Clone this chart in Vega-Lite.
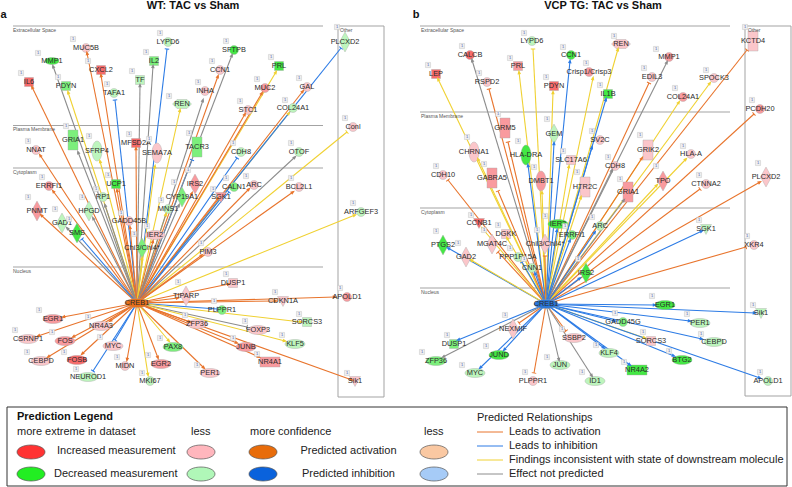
{
"$schema":"https://vega.github.io/schema/vega-lite/v6.json",
"width":792,"height":487,"padding":0,
"autosize":{"type":"fit","contains":"padding"},
"background":"white",
"config":{"view":{"stroke":null}},
"datasets":{
"guides":[
{"x":13,"y":26,"x2":323,"y2":26,"c":"frame"},{"x":13,"y":125.5,"x2":323,"y2":125.5,"c":"frame"},{"x":13,"y":168,"x2":323,"y2":168,"c":"frame"},{"x":13,"y":267,"x2":323,"y2":267,"c":"frame"},
{"x":338,"y":26,"x2":384,"y2":26,"c":"frame"},{"x":338,"y":397,"x2":384,"y2":397,"c":"frame"},{"x":338,"y":26,"x2":338,"y2":397,"c":"frame"},{"x":384,"y":26,"x2":384,"y2":397,"c":"frame"},
{"x":420,"y":26,"x2":730,"y2":26,"c":"frame"},{"x":420,"y":112,"x2":730,"y2":112,"c":"frame"},{"x":420,"y":208,"x2":730,"y2":208,"c":"frame"},{"x":420,"y":288,"x2":730,"y2":288,"c":"frame"},
{"x":745,"y":26,"x2":791,"y2":26,"c":"frame"},{"x":745,"y":396,"x2":791,"y2":396,"c":"frame"},{"x":745,"y":26,"x2":745,"y2":396,"c":"frame"},{"x":791,"y":26,"x2":791,"y2":396,"c":"frame"},
{"x":7,"y":407,"x2":787,"y2":407,"c":"box"},{"x":7,"y":486,"x2":787,"y2":486,"c":"box"},{"x":7,"y":407,"x2":7,"y2":486,"c":"box"},{"x":787,"y":407,"x2":787,"y2":486,"c":"box"},
{"x":477,"y":432,"x2":503,"y2":432,"c":"act"},{"x":477,"y":446,"x2":503,"y2":446,"c":"inh"},{"x":477,"y":460,"x2":503,"y2":460,"c":"inc"},{"x":477,"y":474,"x2":503,"y2":474,"c":"non"}
],
"edges":[
{"x0":137,"y0":303,"x":87,"y":53,"r":"act","h":"arrow"},{"x0":137,"y0":303,"x":53,"y":66,"r":"non","h":"arrow"},{"x0":137,"y0":303,"x":32,"y":87,"r":"act","h":"arrow"},{"x0":137,"y0":303,"x":101,"y":75,"r":"act","h":"arrow"},
{"x0":137,"y0":303,"x":167,"y":49,"r":"inh","h":"tee"},{"x0":137,"y0":303,"x":153,"y":66,"r":"non","h":"arrow"},{"x0":137,"y0":303,"x":140,"y":85,"r":"non","h":"arrow"},{"x0":137,"y0":303,"x":68,"y":92,"r":"inc","h":"arrow"},
{"x0":137,"y0":303,"x":115,"y":100,"r":"inh","h":"tee"},{"x0":137,"y0":303,"x":180,"y":110,"r":"inc","h":"arrow"},{"x0":137,"y0":303,"x":78,"y":152,"r":"non","h":"arrow"},{"x0":137,"y0":303,"x":100,"y":161,"r":"inc","h":"arrow"},
{"x0":137,"y0":303,"x":40,"y":155,"r":"act","h":"arrow"},{"x0":137,"y0":303,"x":136,"y":148,"r":"act","h":"arrow"},{"x0":137,"y0":303,"x":155,"y":166,"r":"inc","h":"arrow"},{"x0":137,"y0":303,"x":192,"y":160,"r":"inh","h":"tee"},
{"x0":137,"y0":303,"x":117,"y":190,"r":"act","h":"arrow"},{"x0":137,"y0":303,"x":53,"y":191,"r":"act","h":"arrow"},{"x0":137,"y0":303,"x":105,"y":205,"r":"non","h":"arrow"},{"x0":137,"y0":303,"x":93,"y":218,"r":"non","h":"arrow"},
{"x0":137,"y0":303,"x":192,"y":193,"r":"act","h":"arrow"},{"x0":137,"y0":303,"x":179,"y":205,"r":"non","h":"arrow"},{"x0":137,"y0":303,"x":166,"y":214,"r":"inc","h":"arrow"},{"x0":137,"y0":303,"x":130,"y":227,"r":"act","h":"arrow"},
{"x0":137,"y0":303,"x":153,"y":241,"r":"act","h":"arrow"},{"x0":137,"y0":303,"x":142,"y":258,"r":"inc","h":"arrow"},{"x0":137,"y0":303,"x":41,"y":215,"r":"act","h":"arrow"},{"x0":137,"y0":303,"x":67,"y":228,"r":"non","h":"arrow"},
{"x0":137,"y0":303,"x":82,"y":239,"r":"inh","h":"tee"},{"x0":137,"y0":303,"x":232,"y":55,"r":"non","h":"arrow"},{"x0":137,"y0":303,"x":218,"y":76,"r":"act","h":"arrow"},{"x0":137,"y0":303,"x":203,"y":100,"r":"non","h":"arrow"},
{"x0":137,"y0":303,"x":276,"y":72,"r":"inc","h":"arrow"},{"x0":137,"y0":303,"x":262,"y":93,"r":"act","h":"arrow"},{"x0":137,"y0":303,"x":303,"y":91,"r":"act","h":"arrow"},{"x0":137,"y0":303,"x":245,"y":114,"r":"act","h":"arrow"},
{"x0":137,"y0":303,"x":289,"y":113,"r":"inc","h":"arrow"},{"x0":137,"y0":303,"x":341,"y":48,"r":"inh","h":"tee"},{"x0":137,"y0":303,"x":347,"y":132,"r":"inc","h":"tee"},{"x0":137,"y0":303,"x":237,"y":158,"r":"inh","h":"tee"},
{"x0":137,"y0":303,"x":295,"y":157,"r":"non","h":"arrow"},{"x0":137,"y0":303,"x":229,"y":192,"r":"inh","h":"tee"},{"x0":137,"y0":303,"x":249,"y":189,"r":"act","h":"arrow"},{"x0":137,"y0":303,"x":293,"y":192,"r":"act","h":"arrow"},
{"x0":137,"y0":303,"x":218,"y":198,"r":"act","h":"arrow"},{"x0":137,"y0":303,"x":355,"y":215,"r":"inc","h":"arrow"},{"x0":137,"y0":303,"x":229,"y":284,"r":"act","h":"arrow"},{"x0":137,"y0":303,"x":202,"y":255,"r":"act","h":"arrow"},
{"x0":137,"y0":303,"x":335,"y":297,"r":"act","h":"arrow"},{"x0":137,"y0":303,"x":276,"y":301,"r":"act","h":"arrow"},{"x0":137,"y0":303,"x":217,"y":309,"r":"inh","h":"tee"},{"x0":137,"y0":303,"x":301,"y":322,"r":"inc","h":"arrow"},
{"x0":137,"y0":303,"x":247,"y":327,"r":"non","h":"tee"},{"x0":137,"y0":303,"x":285,"y":341,"r":"inc","h":"arrow"},{"x0":137,"y0":303,"x":237,"y":343,"r":"act","h":"arrow"},{"x0":137,"y0":303,"x":259,"y":357,"r":"act","h":"arrow"},
{"x0":137,"y0":303,"x":352,"y":380,"r":"act","h":"arrow"},{"x0":137,"y0":303,"x":204,"y":368,"r":"act","h":"arrow"},{"x0":137,"y0":303,"x":190,"y":322,"r":"act","h":"arrow"},{"x0":137,"y0":303,"x":178,"y":298,"r":"act","h":"arrow"},
{"x0":137,"y0":303,"x":63,"y":317,"r":"act","h":"arrow"},{"x0":137,"y0":303,"x":110,"y":321,"r":"act","h":"arrow"},{"x0":137,"y0":303,"x":38,"y":336,"r":"act","h":"arrow"},{"x0":137,"y0":303,"x":73,"y":337,"r":"act","h":"arrow"},
{"x0":137,"y0":303,"x":115,"y":340,"r":"inh","h":"tee"},{"x0":137,"y0":303,"x":48,"y":357,"r":"act","h":"arrow"},{"x0":137,"y0":303,"x":82,"y":354,"r":"act","h":"arrow"},{"x0":137,"y0":303,"x":169,"y":341,"r":"inc","h":"arrow"},
{"x0":137,"y0":303,"x":158,"y":358,"r":"act","h":"arrow"},{"x0":137,"y0":303,"x":127,"y":360,"r":"act","h":"arrow"},{"x0":137,"y0":303,"x":93,"y":371,"r":"inh","h":"tee"},{"x0":137,"y0":303,"x":148,"y":375,"r":"inc","h":"arrow"},
{"x0":546,"y0":304,"x":533,"y":49,"r":"inc","h":"tee"},{"x0":546,"y0":304,"x":472,"y":60,"r":"non","h":"arrow"},{"x0":546,"y0":304,"x":570,"y":61,"r":"inh","h":"arrow"},{"x0":546,"y0":304,"x":438,"y":79,"r":"inc","h":"arrow"},
{"x0":546,"y0":304,"x":519,"y":72,"r":"inc","h":"arrow"},{"x0":546,"y0":304,"x":489,"y":89,"r":"act","h":"tee"},{"x0":546,"y0":304,"x":553,"y":92,"r":"inc","h":"arrow"},{"x0":546,"y0":304,"x":593,"y":78,"r":"inc","h":"arrow"},
{"x0":546,"y0":304,"x":508,"y":142,"r":"act","h":"tee"},{"x0":546,"y0":304,"x":554,"y":143,"r":"inh","h":"arrow"},{"x0":546,"y0":304,"x":478,"y":159,"r":"inc","h":"arrow"},{"x0":546,"y0":304,"x":528,"y":165,"r":"inh","h":"arrow"},
{"x0":546,"y0":304,"x":448,"y":180,"r":"act","h":"tee"},{"x0":546,"y0":304,"x":498,"y":191,"r":"act","h":"tee"},{"x0":546,"y0":304,"x":542,"y":192,"r":"inc","h":"arrow"},{"x0":546,"y0":304,"x":569,"y":166,"r":"inc","h":"arrow"},
{"x0":546,"y0":304,"x":581,"y":197,"r":"inc","h":"arrow"},{"x0":546,"y0":304,"x":592,"y":147,"r":"inh","h":"arrow"},{"x0":546,"y0":304,"x":618,"y":49,"r":"inc","h":"arrow"},{"x0":546,"y0":304,"x":667,"y":62,"r":"non","h":"arrow"},
{"x0":546,"y0":304,"x":649,"y":83,"r":"act","h":"tee"},{"x0":546,"y0":304,"x":606,"y":99,"r":"inh","h":"arrow"},{"x0":546,"y0":304,"x":679,"y":102,"r":"inc","h":"arrow"},{"x0":546,"y0":304,"x":710,"y":83,"r":"inc","h":"arrow"},
{"x0":546,"y0":304,"x":747,"y":50,"r":"act","h":"tee"},{"x0":546,"y0":304,"x":754,"y":114,"r":"act","h":"tee"},{"x0":546,"y0":304,"x":642,"y":158,"r":"act","h":"arrow"},{"x0":546,"y0":304,"x":686,"y":159,"r":"inc","h":"arrow"},
{"x0":546,"y0":304,"x":612,"y":170,"r":"non","h":"arrow"},{"x0":546,"y0":304,"x":657,"y":185,"r":"inc","h":"arrow"},{"x0":546,"y0":304,"x":700,"y":189,"r":"act","h":"tee"},{"x0":546,"y0":304,"x":760,"y":182,"r":"act","h":"arrow"},
{"x0":546,"y0":304,"x":624,"y":200,"r":"non","h":"arrow"},{"x0":546,"y0":304,"x":482,"y":228,"r":"inc","h":"arrow"},{"x0":546,"y0":304,"x":507,"y":238,"r":"inc","h":"arrow"},{"x0":546,"y0":304,"x":498,"y":252,"r":"act","h":"tee"},
{"x0":546,"y0":304,"x":448,"y":248,"r":"inh","h":"arrow"},{"x0":546,"y0":304,"x":471,"y":260,"r":"inc","h":"arrow"},{"x0":546,"y0":304,"x":522,"y":262,"r":"inh","h":"tee"},{"x0":546,"y0":304,"x":535,"y":273,"r":"inh","h":"arrow"},
{"x0":546,"y0":304,"x":545,"y":256,"r":"act","h":"tee"},{"x0":546,"y0":304,"x":557,"y":230,"r":"inh","h":"arrow"},{"x0":546,"y0":304,"x":570,"y":240,"r":"inh","h":"arrow"},{"x0":546,"y0":304,"x":595,"y":232,"r":"inh","h":"arrow"},
{"x0":546,"y0":304,"x":580,"y":278,"r":"inh","h":"arrow"},{"x0":546,"y0":304,"x":702,"y":231,"r":"inh","h":"arrow"},{"x0":546,"y0":304,"x":746,"y":247,"r":"act","h":"tee"},{"x0":546,"y0":304,"x":519,"y":323,"r":"act","h":"tee"},
{"x0":546,"y0":304,"x":566,"y":331,"r":"act","h":"tee"},{"x0":546,"y0":304,"x":458,"y":340,"r":"inh","h":"arrow"},{"x0":546,"y0":304,"x":504,"y":350,"r":"inh","h":"arrow"},{"x0":546,"y0":304,"x":443,"y":357,"r":"non","h":"arrow"},
{"x0":546,"y0":304,"x":480,"y":368,"r":"inh","h":"arrow"},{"x0":546,"y0":304,"x":559,"y":360,"r":"non","h":"arrow"},{"x0":546,"y0":304,"x":534,"y":373,"r":"act","h":"tee"},{"x0":546,"y0":304,"x":592,"y":376,"r":"non","h":"arrow"},
{"x0":546,"y0":304,"x":655,"y":305,"r":"inh","h":"arrow"},{"x0":546,"y0":304,"x":755,"y":313,"r":"inh","h":"arrow"},{"x0":546,"y0":304,"x":690,"y":321,"r":"inh","h":"arrow"},{"x0":546,"y0":304,"x":615,"y":321,"r":"inh","h":"arrow"},
{"x0":546,"y0":304,"x":702,"y":339,"r":"inh","h":"arrow"},{"x0":546,"y0":304,"x":645,"y":338,"r":"inc","h":"arrow"},{"x0":546,"y0":304,"x":674,"y":356,"r":"inh","h":"arrow"},{"x0":546,"y0":304,"x":760,"y":378,"r":"inh","h":"arrow"},
{"x0":546,"y0":304,"x":604,"y":348,"r":"inh","h":"arrow"},{"x0":546,"y0":304,"x":630,"y":365,"r":"inh","h":"arrow"}
],
"nodes":[
{"n":"MUC5B","x":86,"y":48,"k":"circle","s":"up1","bx":73,"by":39},{"n":"MMP1","x":52,"y":61,"k":"ellS","s":"dn3","bx":38,"by":53},{"n":"IL6","x":29,"y":82,"k":"square","s":"up3","bx":21,"by":73},{"n":"CXCL2","x":101,"y":70,"k":"square","s":"up3","bx":88,"by":61},
{"n":"LYPD6","x":168,"y":42,"k":"circle","s":"dn1","bx":160,"by":33},{"n":"IL2","x":154,"y":61,"k":"square","s":"dn2","bx":146,"by":52},{"n":"TF","x":140,"y":80,"k":"square","s":"dn1","bx":132,"by":71},{"n":"PDYN","x":66,"y":86,"k":"square","s":"dn2","bx":58,"by":77},
{"n":"TAFA1","x":114,"y":93,"k":"circle","s":"dn1","bx":107,"by":84},{"n":"REN","x":182,"y":104,"k":"hex","s":"dn1","bx":169,"by":96},{"n":"GRIA1","x":73,"y":140,"k":"rectT","s":"dn2","bx":66,"by":126},{"n":"SFRP4","x":97,"y":151,"k":"ellT","s":"dn1","bx":89,"by":136},
{"n":"NNAT","x":36,"y":150,"k":"circle","s":"up1","bx":28,"by":141},{"n":"MFSD2A","x":136,"y":143,"k":"square","s":"up3","bx":129,"by":134},{"n":"SEMA7A","x":157,"y":153,"k":"ellT","s":"up1","bx":149,"by":139},{"n":"TACR3","x":197,"y":147,"k":"rectT","s":"dn2","bx":189,"by":133},
{"n":"UCP1","x":116,"y":184,"k":"square","s":"dn3","bx":108,"by":175},{"n":"ERRFI1","x":49,"y":186,"k":"circle","s":"up2","bx":42,"by":177},{"n":"RP1","x":103,"y":197,"k":"circle","s":"dn1","bx":96,"by":189},{"n":"HPGD","x":89,"y":211,"k":"diamond","s":"dn1","bx":82,"by":197},
{"n":"IRS2","x":195,"y":184,"k":"diamond","s":"up2","bx":188,"by":170},{"n":"CYP19A1","x":182,"y":197,"k":"diamond","s":"dn2","bx":174,"by":182},{"n":"MNS1","x":168,"y":209,"k":"circle","s":"dn1","bx":161,"by":200},{"n":"GADD45B","x":129,"y":221,"k":"circle","s":"up1","bx":121,"by":213},
{"n":"IER2","x":155,"y":235,"k":"ellW","s":"up1","bx":147,"by":226},{"n":"Chi3/Chi4*","x":142,"y":248,"k":"diamond","s":"dn2","bx":134,"by":234},{"n":"PNMT","x":37,"y":211,"k":"diamond","s":"up2","bx":28,"by":197},{"n":"GAD1","x":62,"y":223,"k":"diamond","s":"dn1","bx":55,"by":209},
{"n":"SMS","x":77,"y":233,"k":"diamond","s":"dn3","bx":69,"by":219},{"n":"SFTPB","x":234,"y":50,"k":"circle","s":"dn3","bx":226,"by":41},{"n":"CCN1","x":220,"y":70,"k":"circle","s":"up1","bx":212,"by":61},{"n":"INHA","x":205,"y":91,"k":"circle","s":"up1","bx":198,"by":82},
{"n":"PRL","x":279,"y":66,"k":"square","s":"dn3","bx":271,"by":57},{"n":"MUC2","x":265,"y":88,"k":"circle","s":"up2","bx":257,"by":79},{"n":"GAL","x":307,"y":87,"k":"circle","s":"up1","bx":299,"by":78},{"n":"STC1","x":248,"y":110,"k":"circle","s":"up1","bx":240,"by":101},
{"n":"COL24A1","x":293,"y":108,"k":"circle","s":"dn1","bx":285,"by":100},{"n":"PLCXD2","x":345,"y":42,"k":"diamond","s":"dn1","bx":337,"by":27},{"n":"Conl","x":353,"y":127,"k":"circle","s":"up1","bx":345,"by":118},{"n":"CDH8","x":241,"y":152,"k":"circle","s":"dn1","bx":233,"by":143},
{"n":"OTOF","x":299,"y":152,"k":"circle","s":"dn1","bx":291,"by":143},{"n":"CALN1","x":234,"y":187,"k":"circle","s":"dn2","bx":226,"by":178},{"n":"ARC","x":254,"y":185,"k":"circle","s":"up1","bx":246,"by":176},{"n":"BCL2L1","x":299,"y":187,"k":"circle","s":"up1","bx":291,"by":178},
{"n":"SGK1","x":221,"y":197,"k":"tri","s":"up2","bx":213,"by":189},{"n":"ARFGEF3","x":361,"y":212,"k":"circle","s":"dn1","bx":353,"by":203},{"n":"DUSP1","x":233,"y":283,"k":"square","s":"up1","bx":226,"by":274},{"n":"PIM3","x":208,"y":252,"k":"circle","s":"up1","bx":201,"by":243},
{"n":"APOLD1","x":347,"y":297,"k":"circle","s":"up2","bx":340,"by":288},{"n":"CDKN1A","x":283,"y":301,"k":"tri","s":"up1","bx":275,"by":292},{"n":"PLPPR1","x":222,"y":310,"k":"circle","s":"dn2","bx":214,"by":301},{"n":"SORCS3","x":307,"y":322,"k":"square","s":"dn1","bx":299,"by":314},
{"n":"FOXP3","x":258,"y":330,"k":"ellW","s":"up1","bx":245,"by":321},{"n":"KLF5","x":295,"y":344,"k":"ellW","s":"dn1","bx":282,"by":335},{"n":"JUNB","x":246,"y":347,"k":"ellW","s":"up2","bx":233,"by":338},{"n":"NR4A1","x":270,"y":362,"k":"rectW","s":"up2","bx":257,"by":354},
{"n":"Sik1","x":355,"y":381,"k":"tri","s":"up1","bx":347,"by":373},{"n":"PER1","x":210,"y":373,"k":"ellW","s":"up1","bx":197,"by":365},{"n":"ZFP36","x":197,"y":324,"k":"ellW","s":"up1","bx":185,"by":315},{"n":"TIPARP","x":186,"y":296,"k":"diamond","s":"up1","bx":178,"by":282},
{"n":"EGR1","x":53,"y":319,"k":"ellW","s":"up2","bx":39,"by":310},{"n":"NR4A3","x":101,"y":326,"k":"ellW","s":"up1","bx":88,"by":317},{"n":"CSRNP1","x":28,"y":339,"k":"ellW","s":"up1","bx":15,"by":330},{"n":"FOS","x":65,"y":341,"k":"ellW","s":"up2","bx":52,"by":332},
{"n":"MYC","x":113,"y":346,"k":"ellW","s":"up1","bx":100,"by":337},{"n":"CEBPD","x":41,"y":361,"k":"ellW","s":"up1","bx":27,"by":352},{"n":"FOSB","x":77,"y":360,"k":"ellW","s":"up3","bx":64,"by":352},{"n":"PAX8","x":173,"y":347,"k":"ellW","s":"dn2","bx":160,"by":338},
{"n":"EGR2","x":161,"y":364,"k":"ellW","s":"up2","bx":148,"by":355},{"n":"MIDN","x":125,"y":366,"k":"circle","s":"up1","bx":117,"by":357},{"n":"NEUROD1","x":88,"y":377,"k":"ellW","s":"dn1","bx":76,"by":369},{"n":"MKI67","x":150,"y":381,"k":"circle","s":"dn1","bx":142,"by":373},
{"n":"CREB1","x":137,"y":303,"k":"hub","s":"act"},
{"n":"LYPD6","x":532,"y":41,"k":"circle","s":"dn1","bx":524,"by":33},{"n":"CALCB","x":470,"y":55,"k":"circle","s":"up3","bx":462,"by":46},{"n":"CCN1","x":571,"y":55,"k":"circle","s":"dn3","bx":563,"by":47},{"n":"LEP","x":436,"y":74,"k":"square","s":"up3","bx":428,"by":65},
{"n":"PRL","x":518,"y":66,"k":"square","s":"up2","bx":510,"by":58},{"n":"RSPD2","x":487,"y":82,"k":"circle","s":"up1","bx":479,"by":73},{"n":"PDYN","x":554,"y":86,"k":"square","s":"up3","bx":546,"by":77},{"n":"Crisp1/Crisp3","x":589,"y":72,"k":"circle","s":"up2","bx":586,"by":63},
{"n":"GRM5","x":505,"y":128,"k":"rectT","s":"up2","bx":498,"by":114},{"n":"GEM","x":554,"y":134,"k":"diamond","s":"dn1","bx":547,"by":119},{"n":"CHRNA1","x":474,"y":152,"k":"ellT","s":"up1","bx":467,"by":137},{"n":"HLA-DRA","x":526,"y":155,"k":"ellT","s":"dn3","bx":518,"by":141},
{"n":"CDH10","x":443,"y":175,"k":"circle","s":"up1","bx":436,"by":166},{"n":"GABRA5","x":492,"y":178,"k":"rectT","s":"up2","bx":484,"by":164},{"n":"DMBT1","x":541,"y":181,"k":"ellT","s":"up2","bx":534,"by":167},{"n":"SLC17A6","x":571,"y":160,"k":"square","s":"up1","bx":563,"by":151},
{"n":"HTR2C","x":585,"y":187,"k":"rectT","s":"up1","bx":577,"by":172},{"n":"SV2C","x":600,"y":140,"k":"circle","s":"up1","bx":592,"by":131},{"n":"REN","x":621,"y":44,"k":"hex","s":"up1","bx":614,"by":36},{"n":"MMP1","x":669,"y":57,"k":"circle","s":"up2","bx":656,"by":49},
{"n":"EDIL3","x":652,"y":77,"k":"circle","s":"up1","bx":644,"by":68},{"n":"IL1B","x":608,"y":94,"k":"square","s":"dn3","bx":600,"by":85},{"n":"COL24A1","x":683,"y":97,"k":"circle","s":"up2","bx":675,"by":88},{"n":"SPOCK3","x":714,"y":78,"k":"circle","s":"up1","bx":706,"by":70},
{"n":"KCTD4","x":753,"y":41,"k":"rectT","s":"up1","bx":745,"by":27},{"n":"PCDH20","x":760,"y":109,"k":"circle","s":"up2","bx":752,"by":100},{"n":"GRIK2","x":648,"y":150,"k":"rectT","s":"up1","bx":640,"by":135},{"n":"HLA-A","x":691,"y":154,"k":"circle","s":"up1","bx":683,"by":146},
{"n":"CDH8","x":615,"y":166,"k":"circle","s":"up1","bx":608,"by":157},{"n":"TPO","x":663,"y":181,"k":"diamond","s":"up2","bx":656,"by":166},{"n":"CTNNA2","x":706,"y":184,"k":"circle","s":"up1","bx":699,"by":175},{"n":"PLCXD2","x":766,"y":177,"k":"diamond","s":"up1","bx":758,"by":163},
{"n":"GRIA1","x":628,"y":192,"k":"rectT","s":"up2","bx":620,"by":179},{"n":"CCNB1","x":479,"y":223,"k":"tri","s":"up3","bx":471,"by":215},{"n":"DGKK","x":506,"y":234,"k":"square","s":"up1","bx":498,"by":225},{"n":"MGAT4C","x":492,"y":244,"k":"diamond","s":"up1","bx":484,"by":230},
{"n":"PTGS2","x":443,"y":245,"k":"diamond","s":"dn3","bx":436,"by":231},{"n":"GAD2","x":466,"y":257,"k":"diamond","s":"up1","bx":458,"by":243},{"n":"PPP1R15A","x":518,"y":257,"k":"circle","s":"dn1","bx":510,"by":248},{"n":"CNN1","x":532,"y":268,"k":"circle","s":"dn1","bx":524,"by":259},
{"n":"Chil3/Chil4*","x":545,"y":244,"k":"diamond","s":"up1","bx":537,"by":230},{"n":"IER3","x":558,"y":224,"k":"ellW","s":"dn3","bx":545,"by":216},{"n":"ERRFI1","x":572,"y":235,"k":"circle","s":"dn2","bx":565,"by":226},{"n":"ARC","x":600,"y":226,"k":"circle","s":"dn1","bx":592,"by":217},
{"n":"IRS2","x":586,"y":273,"k":"diamond","s":"dn3","bx":578,"by":259},{"n":"SGK1","x":706,"y":229,"k":"tri","s":"dn1","bx":699,"by":220},{"n":"XKR4","x":754,"y":245,"k":"circle","s":"up1","bx":747,"by":236},{"n":"NEXMIF","x":513,"y":329,"k":"diamond","s":"up1","bx":505,"by":315},
{"n":"SSBP2","x":574,"y":338,"k":"ellW","s":"up1","bx":562,"by":329},{"n":"DUSP1","x":454,"y":344,"k":"square","s":"dn2","bx":447,"by":335},{"n":"JUND","x":499,"y":355,"k":"ellW","s":"dn3","bx":486,"by":346},{"n":"ZFP36","x":436,"y":361,"k":"ellW","s":"dn2","bx":422,"by":352},
{"n":"MYC","x":475,"y":373,"k":"ellW","s":"dn1","bx":462,"by":365},{"n":"JUN","x":560,"y":365,"k":"ellW","s":"dn1","bx":547,"by":357},{"n":"PLPPR1","x":533,"y":381,"k":"circle","s":"up1","bx":525,"by":372},{"n":"ID1","x":595,"y":381,"k":"ellW","s":"dn1","bx":582,"by":372},
{"n":"EGR1","x":665,"y":305,"k":"ellW","s":"dn3","bx":652,"by":296},{"n":"Sik1","x":761,"y":313,"k":"tri","s":"dn1","bx":753,"by":305},{"n":"PER1","x":700,"y":323,"k":"ellW","s":"dn1","bx":687,"by":314},{"n":"GADD45G","x":623,"y":322,"k":"circle","s":"dn2","bx":615,"by":313},
{"n":"CEBPD","x":714,"y":342,"k":"ellW","s":"dn1","bx":701,"by":334},{"n":"SORCS3","x":651,"y":341,"k":"square","s":"up1","bx":643,"by":332},{"n":"BTG2","x":682,"y":360,"k":"ellW","s":"dn3","bx":669,"by":351},{"n":"APOLD1","x":768,"y":381,"k":"circle","s":"dn1","bx":760,"by":372},
{"n":"KLF4","x":609,"y":353,"k":"ellW","s":"dn1","bx":596,"by":345},{"n":"NR4A2","x":637,"y":370,"k":"rectW","s":"dn3","bx":624,"by":362},
{"n":"CREB1","x":546,"y":304,"k":"hub","s":"inh"}
],
"swatches":[
{"x":31,"y":452,"s":"lgR"},{"x":201,"y":452,"s":"lgPk"},{"x":263,"y":452,"s":"lgO"},{"x":434,"y":452,"s":"lgLO"},
{"x":31,"y":474,"s":"lgG"},{"x":201,"y":474,"s":"lgLG"},{"x":263,"y":474,"s":"lgB"},{"x":434,"y":474,"s":"lgLB"}
],
"regions":[
{"x":13,"y":30,"t":"Extracellular Space"},{"x":13,"y":128.5,"t":"Plasma Membrane"},{"x":13,"y":172,"t":"Cytoplasm"},{"x":13,"y":271,"t":"Nucleus"},{"x":340,"y":30,"t":"Other"},
{"x":421,"y":30,"t":"Extracellular Space"},{"x":421,"y":116,"t":"Plasma Membrane"},{"x":421,"y":212,"t":"Cytoplasm"},{"x":421,"y":292,"t":"Nucleus"},{"x":748,"y":30,"t":"Other"}
],
"titles":[
{"x":193,"y":6,"t":"WT: TAC vs Sham"},{"x":603,"y":6,"t":"VCP TG: TAC vs Sham"},{"x":3.5,"y":15,"t":"a"},{"x":416,"y":15,"t":"b"}
],
"legendText":[
{"x":17,"y":432,"t":"more extreme in dataset"},{"x":191,"y":432,"t":"less"},{"x":250,"y":432,"t":"more confidence"},{"x":424,"y":432,"t":"less"},
{"x":57,"y":451,"t":"Increased measurement"},{"x":54,"y":474,"t":"Decreased measurement"},{"x":300.5,"y":451,"t":"Predicted activation"},{"x":302,"y":474,"t":"Predicted inhibition"},
{"x":477,"y":418,"t":"Predicted Relationships"},{"x":509,"y":432,"t":"Leads to activation"},{"x":509,"y":446,"t":"Leads to inhibition"},{"x":509,"y":460,"t":"Findings inconsistent with state of downstream molecule"},{"x":509,"y":474,"t":"Effect not predicted"}
],
"legendTitle":[{"x":17,"y":417,"t":"Prediction Legend"}]
},
"layer":[
{"data":{"name":"guides"},"mark":{"type":"rule","strokeWidth":1},
 "encoding":{
 "x":{"field":"x","type":"quantitative","axis":null,"scale":{"domain":[0,792],"nice":false,"zero":false}},
 "y":{"field":"y","type":"quantitative","axis":null,"scale":{"domain":[487,0],"nice":false,"zero":false}},
 "x2":{"field":"x2"},"y2":{"field":"y2"},
 "stroke":{"field":"c","type":"nominal","legend":null,"scale":{"domain":["frame","box","act","inh","inc","non"],"range":["#a3a3a3","#333333","#e8742c","#2c7be5","#f0d132","#8c8c8c"]}}}},
{"data":{"name":"edges"},"mark":{"type":"rule","strokeWidth":1.1},
 "encoding":{
 "x":{"field":"x0","type":"quantitative","axis":null,"scale":{"domain":[0,792],"nice":false,"zero":false}},
 "y":{"field":"y0","type":"quantitative","axis":null,"scale":{"domain":[487,0],"nice":false,"zero":false}},
 "x2":{"field":"x"},"y2":{"field":"y"},
 "stroke":{"field":"r","type":"nominal","legend":null,"scale":{"domain":["frame","box","act","inh","inc","non"],"range":["#a3a3a3","#333333","#e8742c","#2c7be5","#f0d132","#8c8c8c"]}}}},
{"data":{"name":"nodes"},"mark":{"type":"point","filled":true,"stroke":"#aaaaaa","strokeWidth":0.4,"opacity":1},
 "encoding":{
 "x":{"field":"x","type":"quantitative","axis":null,"scale":{"domain":[0,792],"nice":false,"zero":false}},
 "y":{"field":"y","type":"quantitative","axis":null,"scale":{"domain":[487,0],"nice":false,"zero":false}},
 "size":{"value":400},
 "shape":{"field":"k","type":"nominal","legend":null,"scale":{"domain":["circle","ellW","ellS","ellT","hub","square","rectT","rectW","diamond","tri","hex","swatch"],"range":[
 "M-.45,0C-.45,-.25 -.25,-.45 0,-.45C.25,-.45 .45,-.25 .45,0C.45,.25 .25,.45 0,.45C-.25,.45 -.45,.25 -.45,0Z",
 "M-1,0C-1,-.25 -.55,-.45 0,-.45C.55,-.45 1,-.25 1,0C1,.25 .55,.45 0,.45C-.55,.45 -1,.25 -1,0Z",
 "M-.7,0C-.7,-.2 -.4,-.35 0,-.35C.4,-.35 .7,-.2 .7,0C.7,.2 .4,.35 0,.35C-.4,.35 -.7,.2 -.7,0Z",
 "M-.5,0C-.5,-.55 -.28,-1 0,-1C.28,-1 .5,-.55 .5,0C.5,.55 .28,1 0,1C-.28,1 -.5,.55 -.5,0Z",
 "M-1.2,0C-1.2,-.25 -.66,-.45 0,-.45C.66,-.45 1.2,-.25 1.2,0C1.2,.25 .66,.45 0,.45C-.66,.45 -1.2,.25 -1.2,0Z",
 "M-.45,-.45H.45V.45H-.45Z","M-.5,-1H.5V1H-.5Z","M-1,-.5H1V.5H-1Z","M0,-1L.55,0L0,1L-.55,0Z","M-.55,-.45H.55L0,.55Z","M-.95,0L-.5,-.45H.5L.95,0L.5,.45H-.5Z","M-1.4,0C-1.4,-.39 -.77,-.7 0,-.7C.77,-.7 1.4,-.39 1.4,0C1.4,.39 .77,.7 0,.7C-.77,.7 -1.4,.39 -1.4,0Z"]}},
 "fill":{"field":"s","type":"nominal","legend":null,"scale":{"domain":["up3","up2","up1","dn3","dn2","dn1","act","inh","lgR","lgPk","lgO","lgLO","lgG","lgLG","lgB","lgLB"],"range":["#f76b6b","#f99a9e","#fbc6ca","#44e844","#7cef7c","#bdf5bd","#e8701a","#2a76d8","#ff3333","#ffb6bd","#e86c0a","#fac8a2","#22ee22","#b0f7b8","#0a62dc","#a6cbf7"]}}}},
{"data":{"name":"swatches"},"transform":[{"calculate":"'swatch'","as":"k"}],"mark":{"type":"point","filled":true,"stroke":"#555555","strokeWidth":0.7,"opacity":1},
 "encoding":{
 "x":{"field":"x","type":"quantitative","axis":null,"scale":{"domain":[0,792],"nice":false,"zero":false}},
 "y":{"field":"y","type":"quantitative","axis":null,"scale":{"domain":[487,0],"nice":false,"zero":false}},
 "size":{"value":400},
 "shape":{"field":"k","type":"nominal","legend":null},
 "fill":{"field":"s","type":"nominal","legend":null}}},
{"data":{"name":"edges"},"transform":[{"calculate":"atan2(datum.x-datum.x0,-(datum.y-datum.y0))*180/PI","as":"a"},{"calculate":"datum.h=='arrow'?'M0,-1L.8,1H-.8Z':'M-1,-.22H1V.22H-1Z'","as":"hs"}],
 "mark":{"type":"point","filled":true,"opacity":1,"size":20},
 "encoding":{
 "x":{"field":"x","type":"quantitative","axis":null,"scale":{"domain":[0,792],"nice":false,"zero":false}},
 "y":{"field":"y","type":"quantitative","axis":null,"scale":{"domain":[487,0],"nice":false,"zero":false}},
 "angle":{"field":"a","type":"quantitative","scale":null},
 "shape":{"field":"hs","type":"nominal","legend":null,"scale":null},
 "color":{"field":"r","type":"nominal","legend":null,"scale":{"domain":["act","inh","inc","non"],"range":["#e8742c","#2c7be5","#f0d132","#8c8c8c"]}}}},
{"data":{"name":"nodes"},"mark":{"type":"text","font":"Liberation Sans","fontSize":7.4,"fill":"#2b2b2b","align":"center","baseline":"middle"},
 "encoding":{
 "x":{"field":"x","type":"quantitative","axis":null,"scale":{"domain":[0,792],"nice":false,"zero":false}},
 "y":{"field":"y","type":"quantitative","axis":null,"scale":{"domain":[487,0],"nice":false,"zero":false}},
 "text":{"field":"n"}}},
{"data":{"name":"nodes"},"transform":[{"filter":"datum.bx>0"}],"mark":{"type":"square","size":26,"fill":"#eeeeee","stroke":"#bbbbbb","strokeWidth":0.4,"opacity":1},
 "encoding":{
 "x":{"field":"bx","type":"quantitative","axis":null,"scale":{"domain":[0,792],"nice":false,"zero":false}},
 "y":{"field":"by","type":"quantitative","axis":null,"scale":{"domain":[487,0],"nice":false,"zero":false}}}},
{"data":{"name":"nodes"},"transform":[{"filter":"datum.bx>0"},{"calculate":"'1'","as":"one"}],"mark":{"type":"text","font":"Liberation Sans","fontSize":4,"fill":"#4a5ab0","align":"center","baseline":"middle"},
 "encoding":{
 "x":{"field":"bx","type":"quantitative","axis":null,"scale":{"domain":[0,792],"nice":false,"zero":false}},
 "y":{"field":"by","type":"quantitative","axis":null,"scale":{"domain":[487,0],"nice":false,"zero":false}},
 "text":{"field":"one"}}},
{"data":{"name":"regions"},"mark":{"type":"text","font":"Liberation Sans","fontSize":5,"fill":"#555555","align":"left","baseline":"middle"},
 "encoding":{
 "x":{"field":"x","type":"quantitative","axis":null,"scale":{"domain":[0,792],"nice":false,"zero":false}},
 "y":{"field":"y","type":"quantitative","axis":null,"scale":{"domain":[487,0],"nice":false,"zero":false}},
 "text":{"field":"t"}}},
{"data":{"name":"titles"},"mark":{"type":"text","font":"Liberation Sans","fontSize":11,"fontWeight":"bold","fill":"#111111","align":"center","baseline":"middle"},
 "encoding":{
 "x":{"field":"x","type":"quantitative","axis":null,"scale":{"domain":[0,792],"nice":false,"zero":false}},
 "y":{"field":"y","type":"quantitative","axis":null,"scale":{"domain":[487,0],"nice":false,"zero":false}},
 "text":{"field":"t"}}},
{"data":{"name":"legendText"},"mark":{"type":"text","font":"Liberation Sans","fontSize":11,"fill":"#222222","align":"left","baseline":"middle"},
 "encoding":{
 "x":{"field":"x","type":"quantitative","axis":null,"scale":{"domain":[0,792],"nice":false,"zero":false}},
 "y":{"field":"y","type":"quantitative","axis":null,"scale":{"domain":[487,0],"nice":false,"zero":false}},
 "text":{"field":"t"}}},
{"data":{"name":"legendTitle"},"mark":{"type":"text","font":"Liberation Sans","fontSize":11,"fontWeight":"bold","fill":"#111111","align":"left","baseline":"middle"},
 "encoding":{
 "x":{"field":"x","type":"quantitative","axis":null,"scale":{"domain":[0,792],"nice":false,"zero":false}},
 "y":{"field":"y","type":"quantitative","axis":null,"scale":{"domain":[487,0],"nice":false,"zero":false}},
 "text":{"field":"t"}}}
]
}
